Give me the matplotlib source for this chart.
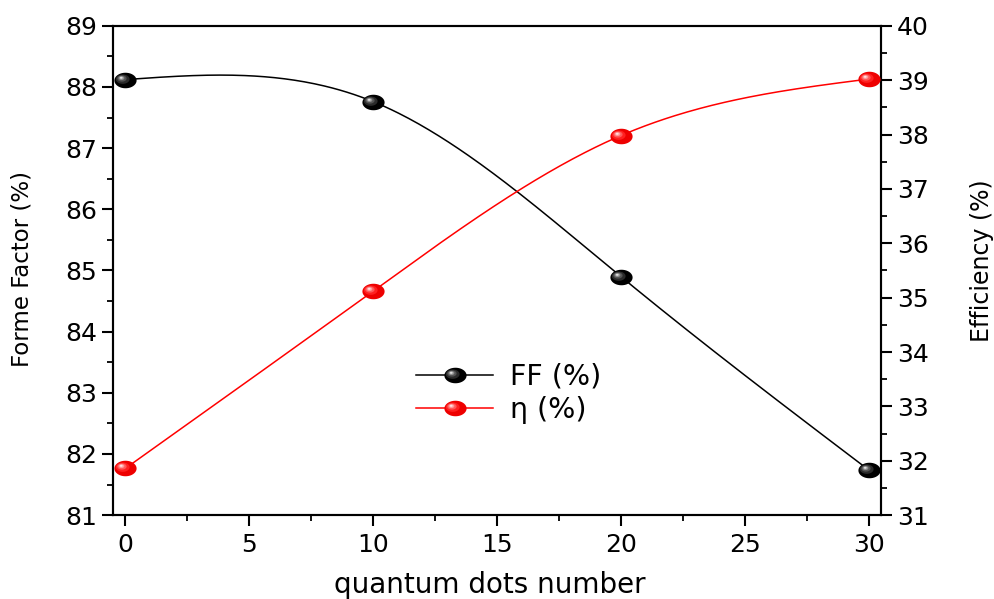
import numpy as np
import matplotlib
matplotlib.use("Agg")
import matplotlib.pyplot as plt
import matplotlib.lines as mlines
from matplotlib.path import Path
from matplotlib.legend_handler import HandlerTuple

# ---- data ----
quantum_dots = [0, 10, 20, 30]
ff_percent = [88.12, 87.76, 84.90, 81.74]
eff_percent = [31.86, 35.12, 37.98, 39.02]

plt.rcParams['font.family'] = ['DejaVu Sans']


def natural_spline(x, y, xs):
    x = np.asarray(x, float); y = np.asarray(y, float)
    n = len(x)
    h = np.diff(x)
    A = np.zeros((n, n)); b = np.zeros(n)
    A[0, 0] = 1; A[-1, -1] = 1
    for i in range(1, n - 1):
        A[i, i - 1] = h[i - 1]
        A[i, i] = 2 * (h[i - 1] + h[i])
        A[i, i + 1] = h[i]
        b[i] = 3 * ((y[i + 1] - y[i]) / h[i] - (y[i] - y[i - 1]) / h[i - 1])
    c = np.linalg.solve(A, b)
    out = np.empty_like(xs)
    for k, xv in enumerate(xs):
        i = min(max(np.searchsorted(x, xv) - 1, 0), n - 2)
        bb = (y[i + 1] - y[i]) / h[i] - h[i] * (2 * c[i] + c[i + 1]) / 3
        d = (c[i + 1] - c[i]) / (3 * h[i])
        t = xv - x[i]
        out[k] = y[i] + bb * t + c[i] * t ** 2 + d * t ** 3
    return out


def ellipse_marker(cx, cy, rx, ry, n=40):
    t = np.linspace(0, 2 * np.pi, n)
    verts = [(1, 0), (-1, 0)] + list(zip(cx + rx * np.cos(t), cy + ry * np.sin(t)))
    codes = [Path.MOVETO, Path.MOVETO, Path.MOVETO] + [Path.LINETO] * (n - 1)
    return Path(verts, codes)


RY = 0.70
base_marker = ellipse_marker(0, 0, 1, RY)
layers = [(-0.25, 0.12, 0.62, 0.42), (-0.32, 0.18, 0.42, 0.28),
          (-0.36, 0.22, 0.26, 0.18), (-0.38, 0.24, 0.13, 0.09)]
black_shades = ['#2a2a2a', '#555555', '#909090', '#e0e0e0']
red_shades = ['#ff2020', '#ff5a5a', '#ff9a9a', '#ffe0e0']
base_red = '#ee0000'

fig = plt.figure(figsize=(9.94, 5.99), dpi=100)
ax = fig.add_axes([0.1137, 0.140, 0.7726, 0.817])
ax2 = ax.twinx()

xs = np.linspace(0, 30, 300)
MS = 16


def draw(axis, y, color, face, shades):
    axis.plot(xs, natural_spline(quantum_dots, y, xs), color=color, lw=1.1, zorder=2)
    axis.plot(quantum_dots, y, linestyle='none', marker=base_marker, markersize=MS,
              markerfacecolor=face, markeredgewidth=0, zorder=3)
    for (cx, cy, rx, ry), sc in zip(layers, shades):
        axis.plot(quantum_dots, y, linestyle='none', marker=ellipse_marker(cx, cy, rx, ry),
                  markersize=MS, markerfacecolor=sc, markeredgewidth=0, zorder=4)


draw(ax, ff_percent, 'black', '#000000', black_shades)
draw(ax2, eff_percent, 'red', base_red, red_shades)


def legend_handle(color, face, shades):
    base = mlines.Line2D([], [], color=color, lw=1.1, marker=base_marker, markersize=MS,
                         markerfacecolor=face, markeredgewidth=0)
    hl = [mlines.Line2D([], [], linestyle='none', marker=ellipse_marker(*l), markersize=MS,
                        markerfacecolor=s, markeredgewidth=0) for l, s in zip(layers, shades)]
    return tuple([base] + hl)


ax2.legend([legend_handle('black', '#000000', black_shades),
            legend_handle('red', base_red, red_shades)], ['FF (%)', 'η (%)'],
           handler_map={tuple: HandlerTuple(ndivide=1, pad=0)}, frameon=False,
           loc='center', bbox_to_anchor=(0.512, 0.343), bbox_transform=fig.transFigure,
           fontsize=20.5, handlelength=2.7, handletextpad=0.6, labelspacing=0.18,
           borderpad=0, borderaxespad=0)

ax.set_xlim(-0.5, 30.5)
ax.set_ylim(81, 89)
ax2.set_ylim(31, 40)
ax.set_xticks(np.arange(0, 31, 5))
ax.set_xticks(np.arange(0, 31, 2.5), minor=True)
ax.set_yticks(np.arange(81, 90, 1))
ax.set_yticks(np.arange(81, 89.01, 0.5), minor=True)
ax2.set_yticks(np.arange(31, 41, 1))
ax2.set_yticks(np.arange(31, 40.01, 0.5), minor=True)

for a in (ax, ax2):
    for s in a.spines.values():
        s.set_linewidth(1.5)
    a.tick_params(which='major', direction='out', length=8, width=1.5, labelsize=18)
    a.tick_params(which='minor', direction='out', length=4.5, width=1.3)
ax.tick_params(axis='x', which='both', top=False)
ax.tick_params(axis='x', pad=5)

ax.set_xlabel('quantum dots number', fontsize=20)
ax.xaxis.set_label_coords(0.49, -0.114)
ax.set_ylabel('Forme Factor (%)', fontsize=16.5)
ax.yaxis.set_label_coords(-0.103, 0.503)
ax2.set_ylabel('Efficiency (%)', fontsize=17)
ax2.yaxis.set_label_coords(1.116, 0.52)

fig.savefig('out.png', dpi=100)
